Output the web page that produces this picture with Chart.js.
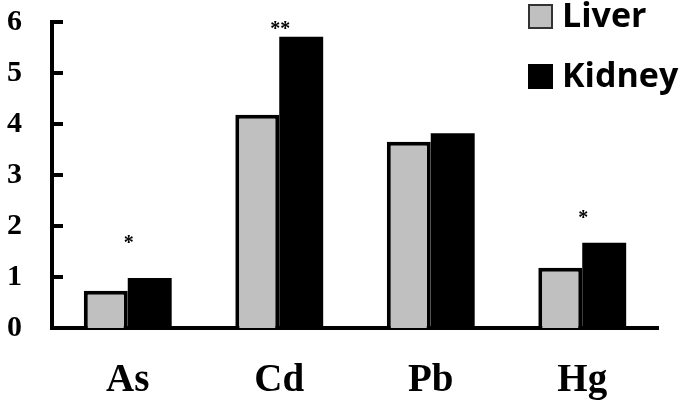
<!DOCTYPE html>
<html>
<head>
<meta charset="utf-8">
<script src="https://cdn.jsdelivr.net/npm/chart.js@4/dist/chart.umd.min.js"></script>
<style>
    html, body { margin: 0; padding: 0; background: #fff; }
    #wrap { width: 685px; height: 402px; position: relative; }
</style>
</head>
<body>
<div id="wrap"><canvas id="chart"></canvas></div>
<script>
var metais = ['As', 'Cd', 'Pb', 'Hg'];
var figado = [0.73, 4.18, 3.65, 1.18];
var rim = [0.98, 5.71, 3.82, 1.67];
var marcas = ['*', '**', '', '*'];
var marcasY = [1.72, 5.92, null, 2.22];
var ticksY = [0, 1, 2, 3, 4, 5, 6];

// legenda, asteriscos e tracinhos do eixo y para dentro
var extras = {
    id: 'extras',
    afterDraw: function (chart) {
        var ctx = chart.ctx;
        var x = chart.scales.x;
        var y = chart.scales.y;
        ctx.save();

        ctx.strokeStyle = '#000';
        ctx.lineWidth = 4;
        ticksY.forEach(function (v) {
            if (v === 0) return;
            var py = y.getPixelForValue(v);
            ctx.beginPath();
            ctx.moveTo(chart.chartArea.left, py);
            ctx.lineTo(chart.chartArea.left + 11, py);
            ctx.stroke();
        });

        ctx.fillStyle = '#000';
        ctx.font = 'bold 20px "Liberation Serif"';
        ctx.textAlign = 'center';
        ctx.textBaseline = 'middle';
        marcas.forEach(function (m, i) {
            if (!m) return;
            ctx.fillText(m, x.getPixelForValue(i) + 1, y.getPixelForValue(marcasY[i]) + 4);
        });

        chart.data.datasets.forEach(function (ds, i) {
            var top = 5 + i * 60;
            ctx.fillStyle = ds.backgroundColor;
            ctx.fillRect(529, top, 23, 23);
            ctx.lineWidth = 2;
            ctx.strokeStyle = i === 0 ? '#333' : '#000';
            ctx.strokeRect(529, top, 23, 23);
            ctx.fillStyle = '#000';
            ctx.font = 'bold 34px "Open Sans"';
            ctx.textAlign = 'left';
            ctx.textBaseline = 'middle';
            ctx.fillText(ds.label, 562, top + 12);
        });
        ctx.restore();
    }
};

var ctx = document.getElementById('chart').getContext('2d');
var chart = new Chart(ctx, {
    type: 'bar',
    data: {
        labels: metais,
        datasets: [{
            label: 'Liver',
            data: figado,
            backgroundColor: '#c0c0c0',
            borderColor: '#000',
            borderWidth: 4
        }, {
            label: 'Kidney',
            data: rim,
            backgroundColor: '#000',
            borderColor: '#000',
            borderWidth: 0
        }]
    },
    options: {
        responsive: true,
        maintainAspectRatio: false,
        animation: false,
        categoryPercentage: 0.58,
        barPercentage: 1,
        layout: { padding: { top: 22, right: 27, left: 0, bottom: 0 } },
        plugins: {
            legend: { display: false },
            tooltip: { enabled: false }
        },
        scales: {
            x: {
                grid: { display: false, drawTicks: false },
                border: { color: '#000', width: 4 },
                ticks: {
                    color: '#000',
                    padding: 30,
                    font: { family: 'Liberation Serif', weight: 'bold', size: 39 }
                },
                afterFit: function (s) {
                    s.height = 74;
                    s.paddingTop = 0;
                    s.paddingBottom = 0;
                    s.paddingLeft = 0;
                    s.paddingRight = 0;
                }
            },
            y: {
                min: 0,
                max: 6,
                grid: { display: false, drawTicks: false },
                border: { color: '#000', width: 4 },
                ticks: {
                    stepSize: 1,
                    color: '#000',
                    padding: 30,
                    font: { family: 'Liberation Serif', weight: 'bold', size: 30 }
                },
                afterFit: function (s) {
                    s.width = 52;
                    s.paddingTop = 0;
                    s.paddingBottom = 0;
                }
            }
        }
    },
    plugins: [extras]
});
</script>
</body>
</html>
